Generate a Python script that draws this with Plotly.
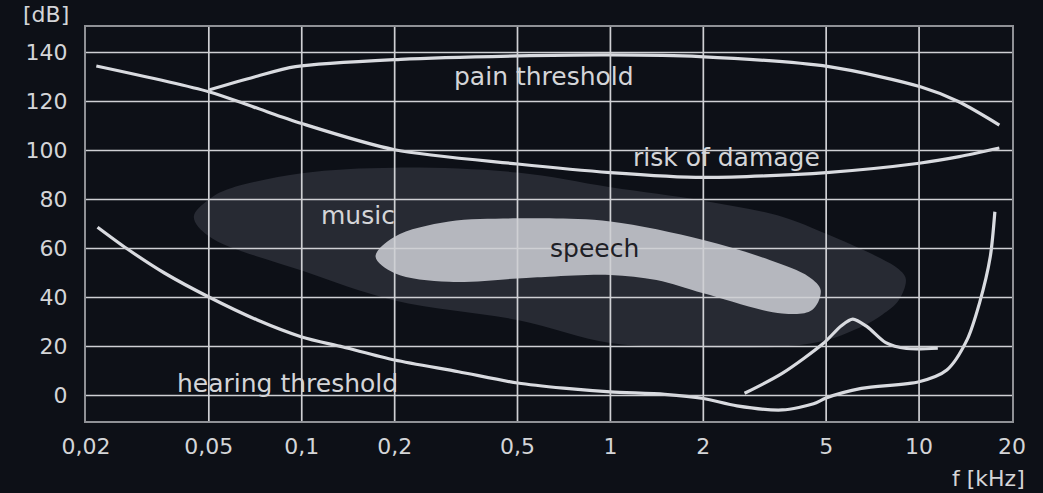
import numpy as np
import plotly.graph_objects as go

# ---- data ----
X_TICKS = [0.02, 0.05, 0.1, 0.2, 0.5, 1, 2, 5, 10, 20]
X_TICK_TEXT = ["0,02", "0,05", "0,1", "0,2", "0,5", "1", "2", "5", "10", "20"]
Y_TICKS = [0, 20, 40, 60, 80, 100, 120, 140]

hearing_f = [0.0218, 0.0271, 0.0359, 0.05, 0.0718, 0.1, 0.136, 0.2, 0.322, 0.5, 0.705, 1, 1.5, 2,
             2.57, 3.6, 4.55, 5, 6.5, 10, 12.3, 14.3, 15.7, 17.0, 17.6]
hearing_db = [68.7, 60, 50, 40.2, 30.8, 23.9, 19.8, 14.5, 9.7, 5.1, 3.0, 1.5, 0.5, -1.2,
              -4.2, -5.9, -3.4, -1.0, 2.9, 5.6, 10.4, 22.7, 37.8, 56.5, 75]

bump_f = [2.72, 3.6, 4.9, 5.6, 6.1, 6.8, 7.8, 9.1, 11.5]
bump_db = [0.9, 9, 21.3, 28.5, 31.2, 28, 21.6, 19.2, 19.3]

pain_f = [0.05, 0.0702, 0.0955, 0.209, 0.5, 1, 1.95, 5.1, 10.1, 13.4, 18.2]
pain_db = [124.7, 130, 134.2, 137.2, 138.6, 139, 138.3, 134.2, 126, 120, 110.4]

risk_f = [0.0216, 0.05, 0.07, 0.1, 0.2, 0.5, 1, 2, 5, 10, 13.5, 18.2]
risk_db = [134.5, 124, 117.7, 111, 100.3, 94.5, 91, 89, 91, 94.8, 97.5, 101]

music_f = [0.0447, 0.05, 0.057, 0.1, 0.2, 0.5, 1, 2, 3.6, 5, 7.5, 8.6, 9.06,
           8.6, 7.6, 6.6, 5, 3.6, 2, 1, 0.5, 0.2, 0.1, 0.05, 0.0447]
music_db = [73, 80, 84, 90.7, 93, 91, 85, 79.5, 73, 66, 56, 51.5, 47.5,
            39, 33, 28.5, 22.6, 20, 19.5, 21.4, 30.8, 38.8, 51, 65, 73]

speech_f = [0.1734, 0.2, 0.3, 0.5, 0.635, 1, 2, 3.28, 4.39, 4.8,
            4.5, 3.6, 2, 1.41, 1, 0.635, 0.5, 0.3, 0.2, 0.1734]
speech_db = [56.7, 64.8, 71, 72.3, 72.3, 71, 63.5, 55.3, 48.5, 43,
             34.9, 33.5, 41.7, 47.1, 49.2, 48.5, 47.8, 46.4, 49.9, 56.7]

label_text = ["pain threshold", "risk of damage", "music", "speech", "hearing threshold"]
label_f = [0.609, 2.385, 0.152, 0.891, 0.0899]
label_db = [130, 97, 73.3, 60.2, 5.1]

# ---- style ----
BG = "#0d1017"
LINE = "#d9dbe0"
GRID = "#cfd0d4"
TXT = "#d4d5d8"
FONT = "DejaVu Sans"

fig = go.Figure()
fig.add_trace(go.Scatter(x=music_f, y=music_db, mode="lines", fill="toself",
                         fillcolor="#272a33", line=dict(width=0, shape="spline", smoothing=1.0),
                         hoverinfo="skip"))
fig.add_trace(go.Scatter(x=speech_f, y=speech_db, mode="lines", fill="toself",
                         fillcolor="#b5b7be", line=dict(width=0, shape="spline", smoothing=1.0),
                         hoverinfo="skip"))
for fx, fy in [(hearing_f, hearing_db), (bump_f, bump_db), (pain_f, pain_db), (risk_f, risk_db)]:
    fig.add_trace(go.Scatter(x=fx, y=fy, mode="lines",
                             line=dict(color=LINE, width=3.2, shape="spline", smoothing=0.8),
                             hoverinfo="skip"))

# grid lines drawn above the filled regions
shapes = []
for v in X_TICKS[1:-1]:
    shapes.append(dict(type="line", xref="x", yref="paper", x0=v, x1=v,
                       y0=0, y1=1, line=dict(color=GRID, width=1.7), layer="above"))
for v in Y_TICKS:
    shapes.append(dict(type="line", xref="paper", yref="y", x0=0, x1=1, y0=v, y1=v,
                       line=dict(color=GRID, width=1.7), layer="above"))

annotations = []
for t, f, d in zip(label_text, label_f, label_db):
    annotations.append(dict(text=t, x=np.log10(f), y=d, xref="x", yref="y", showarrow=False,
                            font=dict(family=FONT, size=25,
                                      color="#1e2026" if t == "speech" else TXT)))
annotations.append(dict(text="[dB]", xref="paper", yref="paper", x=0, y=1.032, xshift=-15,
                        xanchor="right", yanchor="middle", showarrow=False,
                        font=dict(family=FONT, size=22, color=TXT)))
annotations.append(dict(text="f [kHz]", xref="paper", yref="paper", x=1.0165, y=-0.1447,
                        xanchor="right", yanchor="middle", showarrow=False,
                        font=dict(family=FONT, size=22, color=TXT)))

fig.update_layout(
    width=1043, height=493,
    margin=dict(l=86, r=31, t=27, b=72),
    paper_bgcolor=BG, plot_bgcolor=BG,
    showlegend=False,
    shapes=shapes, annotations=annotations,
    font=dict(family=FONT, color=TXT),
)
fig.update_xaxes(type="log", range=[np.log10(0.02), np.log10(20)],
                 tickvals=X_TICKS, ticktext=X_TICK_TEXT, showgrid=False, zeroline=False,
                 showline=True, mirror=True, linecolor="#8f9196", linewidth=2,
                 ticks="", ticklabelstandoff=5,
                 tickfont=dict(family=FONT, size=22, color=TXT))
fig.update_yaxes(range=[-10.4, 150.4], tickvals=Y_TICKS, showgrid=False, zeroline=False,
                 showline=True, mirror=True, linecolor="#8f9196", linewidth=2,
                 ticks="", ticklabelstandoff=12,
                 tickfont=dict(family=FONT, size=22, color=TXT))

fig.write_html("out.html", config={"displayModeBar": False},
               post_script="document.body.style.margin='0';document.body.style.background='%s';" % BG)
